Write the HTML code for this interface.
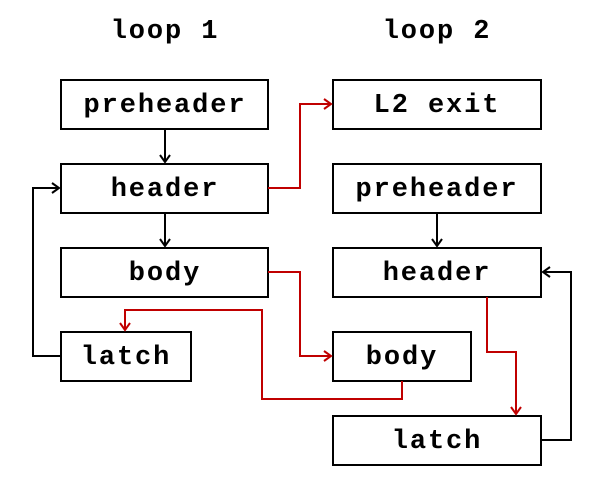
<!DOCTYPE html>
<html><head><meta charset="utf-8"><style>
html,body{margin:0;padding:0;background:#fff;}
svg{display:block;}
text{font-family:"Liberation Mono",monospace;font-weight:bold;font-size:27px;letter-spacing:1.9px;fill:#000;}
</style></head><body>
<svg width="600" height="487" viewBox="0 0 600 487" xmlns="http://www.w3.org/2000/svg">
<defs>
<marker id="ab" markerWidth="12" markerHeight="12" refX="9" refY="6" orient="auto" markerUnits="userSpaceOnUse">
<path d="M2,1 L9,6 L2,11" fill="none" stroke="#000" stroke-width="2"/></marker>
<marker id="ar" markerWidth="12" markerHeight="12" refX="9" refY="6" orient="auto" markerUnits="userSpaceOnUse">
<path d="M2,1 L9,6 L2,11" fill="none" stroke="#c00000" stroke-width="2"/></marker>
</defs>
<text x="165" y="38" text-anchor="middle">loop 1</text>
<text x="437" y="38" text-anchor="middle">loop 2</text>
<g fill="#fff" stroke="#000" stroke-width="2">
<rect x="61" y="80" width="207" height="49"/>
<rect x="61" y="164" width="207" height="49"/>
<rect x="61" y="248" width="207" height="49"/>
<rect x="61" y="332" width="130" height="49"/>
<rect x="333" y="80" width="208" height="49"/>
<rect x="333" y="164" width="208" height="49"/>
<rect x="333" y="248" width="208" height="49"/>
<rect x="333" y="332" width="138" height="49"/>
<rect x="333" y="416" width="208" height="49"/>
</g>
<g text-anchor="middle">
<text x="165" y="112">preheader</text>
<text x="165" y="196">header</text>
<text x="165" y="280">body</text>
<text x="126" y="364">latch</text>
<text x="437" y="112">L2 exit</text>
<text x="437" y="196">preheader</text>
<text x="437" y="280">header</text>
<text x="402" y="364">body</text>
<text x="437" y="448">latch</text>
</g>
<g fill="none" stroke="#000" stroke-width="2">
<path d="M165,129 V162" marker-end="url(#ab)"/>
<path d="M165,213 V246" marker-end="url(#ab)"/>
<path d="M61,356 H33 V188 H59" marker-end="url(#ab)"/>
<path d="M437,213 V246" marker-end="url(#ab)"/>
<path d="M541,440 H571 V272 H543" marker-end="url(#ab)"/>
</g>
<g fill="none" stroke="#c00000" stroke-width="2">
<path d="M268,188 H300 V104 H331" marker-end="url(#ar)"/>
<path d="M268,272 H300 V356 H331" marker-end="url(#ar)"/>
<path d="M402,381 V399 H262 V310 H125 V330" marker-end="url(#ar)"/>
<path d="M487,297 V352 H516 V414" marker-end="url(#ar)"/>
</g>
</svg>
</body></html>
